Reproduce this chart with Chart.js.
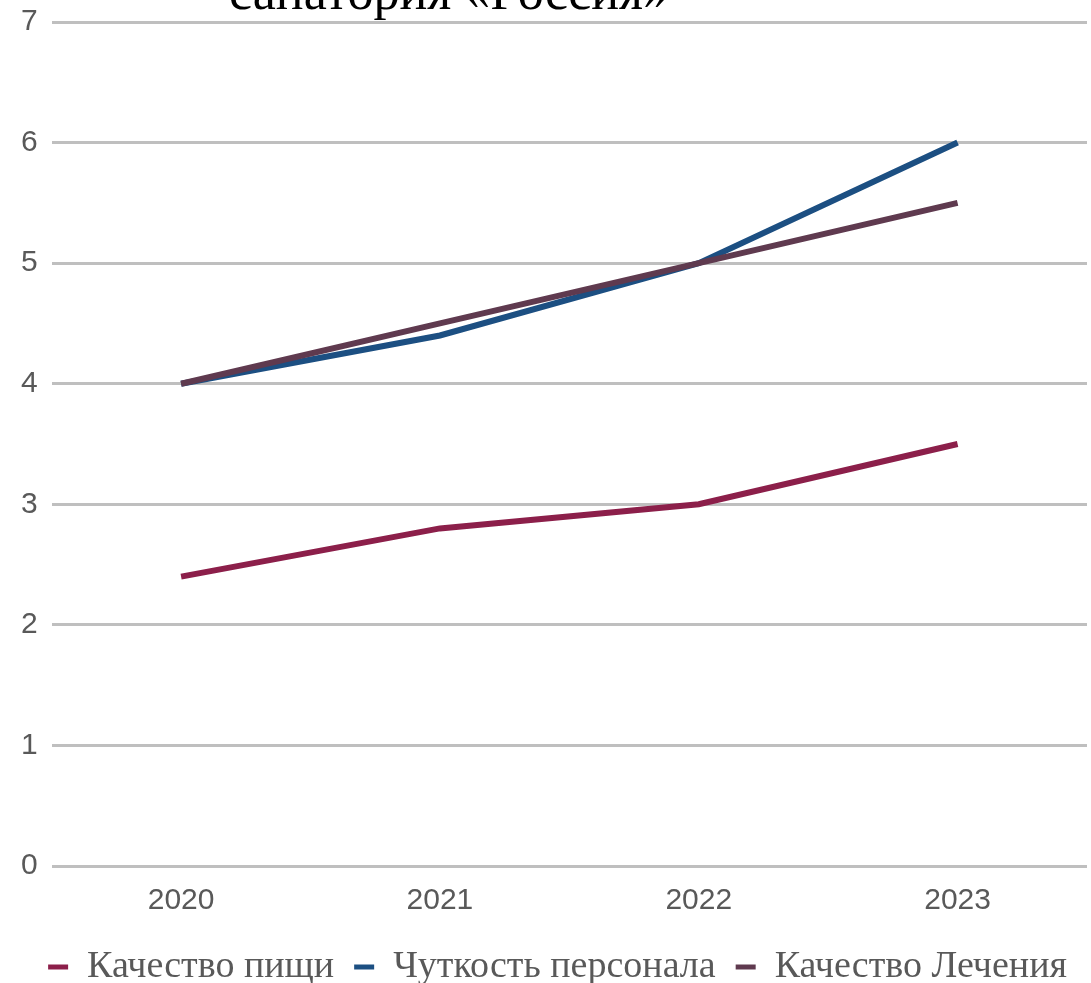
<!DOCTYPE html>
<html>
<head>
<meta charset="utf-8">
<script src="https://cdn.jsdelivr.net/npm/chart.js@4.4.1/dist/chart.umd.min.js"></script>
<style>
  html, body { margin: 0; padding: 0; background: #fff; overflow: hidden; }
  #wrap { width: 1091px; height: 983px; overflow: hidden; }
</style>
</head>
<body>
<div id="wrap"><canvas id="grafico" width="1091" height="996"></canvas></div>
<script>
// данные
const years = ['2020', '2021', '2022', '2023'];
const kachestvoPishchi = [2.4, 2.8, 3.0, 3.5];
const chutkostPersonala = [4.0, 4.4, 5.0, 6.0];
const kachestvoLecheniya = [4.0, 4.5, 5.0, 5.5];
const yTicks = [0, 1, 2, 3, 4, 5, 6, 7];
const titleText = 'санатория «Россия»';

// заголовок обрезан сверху, как на картинке
const cutTitle = {
    id: 'cutTitle',
    afterDraw(chart) {
        const ctx = chart.ctx;
        ctx.save();
        ctx.font = '52px "Liberation Serif", serif';
        ctx.fillStyle = '#000';
        ctx.textAlign = 'center';
        ctx.textBaseline = 'alphabetic';
        ctx.fillText(titleText, 449, 9);
        ctx.restore();
    }
};

function serie(label, data, color, order) {
    return {
        label: label,
        data: data,
        borderColor: color,
        backgroundColor: color,
        borderWidth: 6,
        pointRadius: 0,
        tension: 0,
        order: order
    };
}

new Chart(document.getElementById('grafico').getContext('2d'), {
    type: 'line',
    data: {
        labels: years,
        datasets: [
            serie('Качество пищи', kachestvoPishchi, '#8c1f4a', 3),
            serie('Чуткость персонала', chutkostPersonala, '#1c4f82', 2),
            serie('Качество Лечения', kachestvoLecheniya, '#5f3a4f', 1)
        ]
    },
    plugins: [cutTitle],
    options: {
        responsive: false,
        animation: false,
        layout: { padding: { top: 22, right: 4, left: 7, bottom: 0 } },
        plugins: {
            title: { display: false },
            tooltip: { enabled: false },
            legend: {
                position: 'bottom',
                align: 'end',
                reverse: true,
                labels: {
                    boxWidth: 20,
                    boxHeight: 5,
                    padding: 20,
                    color: '#595959',
                    font: { family: '"Liberation Serif", serif', size: 38 },
                    generateLabels(chart) {
                        const items = Chart.defaults.plugins.legend.labels.generateLabels(chart);
                        items.forEach(it => { it.lineWidth = 0; it.fillStyle = it.strokeStyle; });
                        return items;
                    }
                }
            }
        },
        scales: {
            x: {
                offset: true,
                afterFit(axis) { axis.height = 62; },
                grid: { display: false, drawTicks: false },
                border: { display: false },
                ticks: {
                    color: '#595959',
                    padding: 17,
                    font: { family: '"Liberation Sans", Arial, sans-serif', size: 30 }
                }
            },
            y: {
                min: 0,
                max: 7,
                afterBuildTicks(axis) { axis.ticks = yTicks.map(v => ({ value: v })); },
                afterFit(axis) { axis.paddingTop = 0; },
                grid: { color: '#bfbfbf', lineWidth: 3, drawTicks: false },
                border: { display: false },
                ticks: {
                    color: '#595959',
                    padding: 14,
                    font: { family: '"Liberation Sans", Arial, sans-serif', size: 30 }
                }
            }
        }
    }
});
</script>
</body>
</html>
